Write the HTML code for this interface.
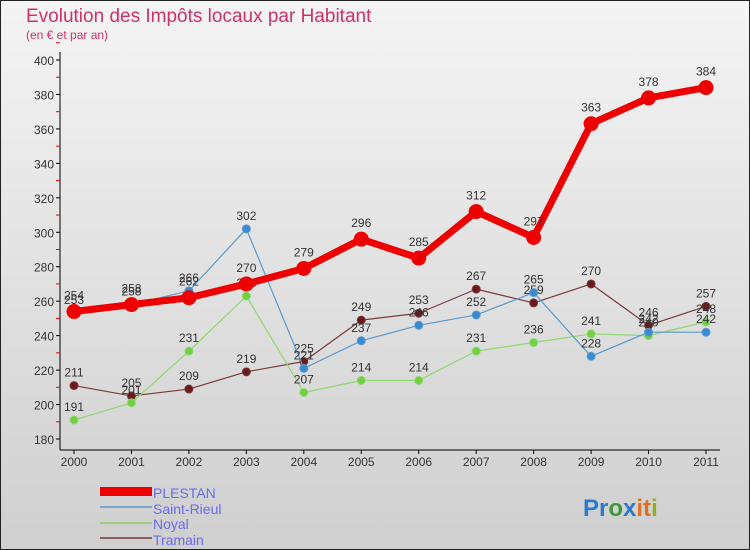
<!DOCTYPE html>
<html><head><meta charset="utf-8"><style>
body{margin:0}
svg{display:block;font-family:"Liberation Sans",sans-serif}
</style></head><body>
<svg width="750" height="550" viewBox="0 0 750 550">
<defs><linearGradient id="bg" x1="0" y1="0" x2="0" y2="1"><stop offset="0" stop-color="#f4f4f4"/><stop offset="1" stop-color="#cfcfcf"/></linearGradient></defs>
<rect x="0.5" y="0.5" width="749" height="549" fill="url(#bg)" stroke="#222"/>
<text x="26" y="22" font-size="19" fill="#d0306b">Evolution des Impôts locaux par Habitant</text>
<text x="26" y="39" font-size="12" fill="#d0306b">(en € et par an)</text>
<g id="axes"></g>
<g id="series"></g>
<g>
<rect x="100" y="487" width="52" height="9" fill="#e00"/>
<text x="153" y="498" font-size="14" fill="#6a6af0">PLESTAN</text>
<rect x="100" y="506" width="52" height="2" fill="#7aa8cc"/>
<text x="153" y="514" font-size="14" fill="#6a6af0">Saint-Rieul</text>
<rect x="100" y="522" width="52" height="2" fill="#9ccf80"/>
<text x="153" y="529" font-size="14" fill="#6a6af0">Noyal</text>
<rect x="100" y="537" width="52" height="2" fill="#8a5f5f"/>
<text x="153" y="545" font-size="14" fill="#6a6af0">Tramain</text>
</g>
<text x="583" y="516" font-size="24" font-weight="bold"><tspan fill="#2a7ad0">Pr</tspan><tspan fill="#3a9a3a">o</tspan><tspan fill="#2a7ad0">x</tspan><tspan fill="#e07020">it</tspan><tspan fill="#90b020">i</tspan></text>
</svg>
<script>
const years=["2000","2001","2002","2003","2004","2005","2006","2007","2008","2009","2010","2011"];
const yTicks=[180,200,220,240,260,280,300,320,340,360,380,400];
const plestan=[254,258,262,270,279,296,285,312,297,363,378,384];
const saintRieul=[253,258,266,302,221,237,246,252,265,228,242,242];
const noyal=[191,201,231,263,207,214,214,231,236,241,240,248];
const tramain=[211,205,209,219,225,249,253,267,259,270,246,257];
const NS="http://www.w3.org/2000/svg";
const xs=i=>74+i*(706-74)/11;
const ys=v=>439-(v-180)*(439-60)/220;
function mk(tag,at,parent){const e=document.createElementNS(NS,tag);for(const k in at)e.setAttribute(k,at[k]);parent.appendChild(e);return e;}
const ax=document.getElementById('axes');
let l=mk('line',{x1:60,y1:52,x2:60,y2:450,stroke:'#000'},ax);


l=mk('line',{x1:60,y1:450,x2:720,y2:450,stroke:'#000'},ax);


yTicks.forEach(v=>{
 const y=ys(v);
 mk('line',{x1:56,y1:y,x2:60,y2:y,stroke:'#000'},ax);
 mk('line',{x1:56,y1:ys(v+10),x2:60,y2:ys(v+10),stroke:'#e00'},ax);
 const t=mk('text',{x:54,y:y+5,'font-size':12,fill:'#333','text-anchor':'end'},ax);t.textContent=v;
 
 
});
years.forEach((yr,i)=>{
 const x=xs(i);
 mk('line',{x1:x,y1:450,x2:x,y2:454,stroke:'#000'},ax);
 const t=mk('text',{x:x,y:466,'font-size':12,fill:'#333','text-anchor':'middle'},ax);t.textContent=yr;
 
 
});
const sg=document.getElementById('series');
function draw(data,color,w,r,fill,name){
 const g=mk('g',{},sg);
 
 
 const p=mk('polyline',{points:data.map((v,i)=>xs(i)+','+ys(v)).join(' '),fill:'none',stroke:color,'stroke-width':w,'stroke-linejoin':'round'},g);
 
 
 data.forEach((v,i)=>{
  const c=mk('circle',{cx:xs(i),cy:ys(v),r:r,fill:fill,stroke:color,'stroke-width':1},g);
  
  
  const t=mk('text',{x:xs(i),y:ys(v)-(r+5),'font-size':12,fill:'#333','text-anchor':'middle'},g);t.textContent=v;
  
  
 });
}
draw(tramain,'#7a3a3a',1.2,4,'#6a1a1a','tramain');
draw(noyal,'#90d870',1.2,4,'#70d040','noyal');
draw(saintRieul,'#5a9ad0',1.2,4,'#3a8ad0','saint-rieul');
draw(plestan,'#ee0000',7,7,'#ee0000','plestan');
</script>
</body></html>
